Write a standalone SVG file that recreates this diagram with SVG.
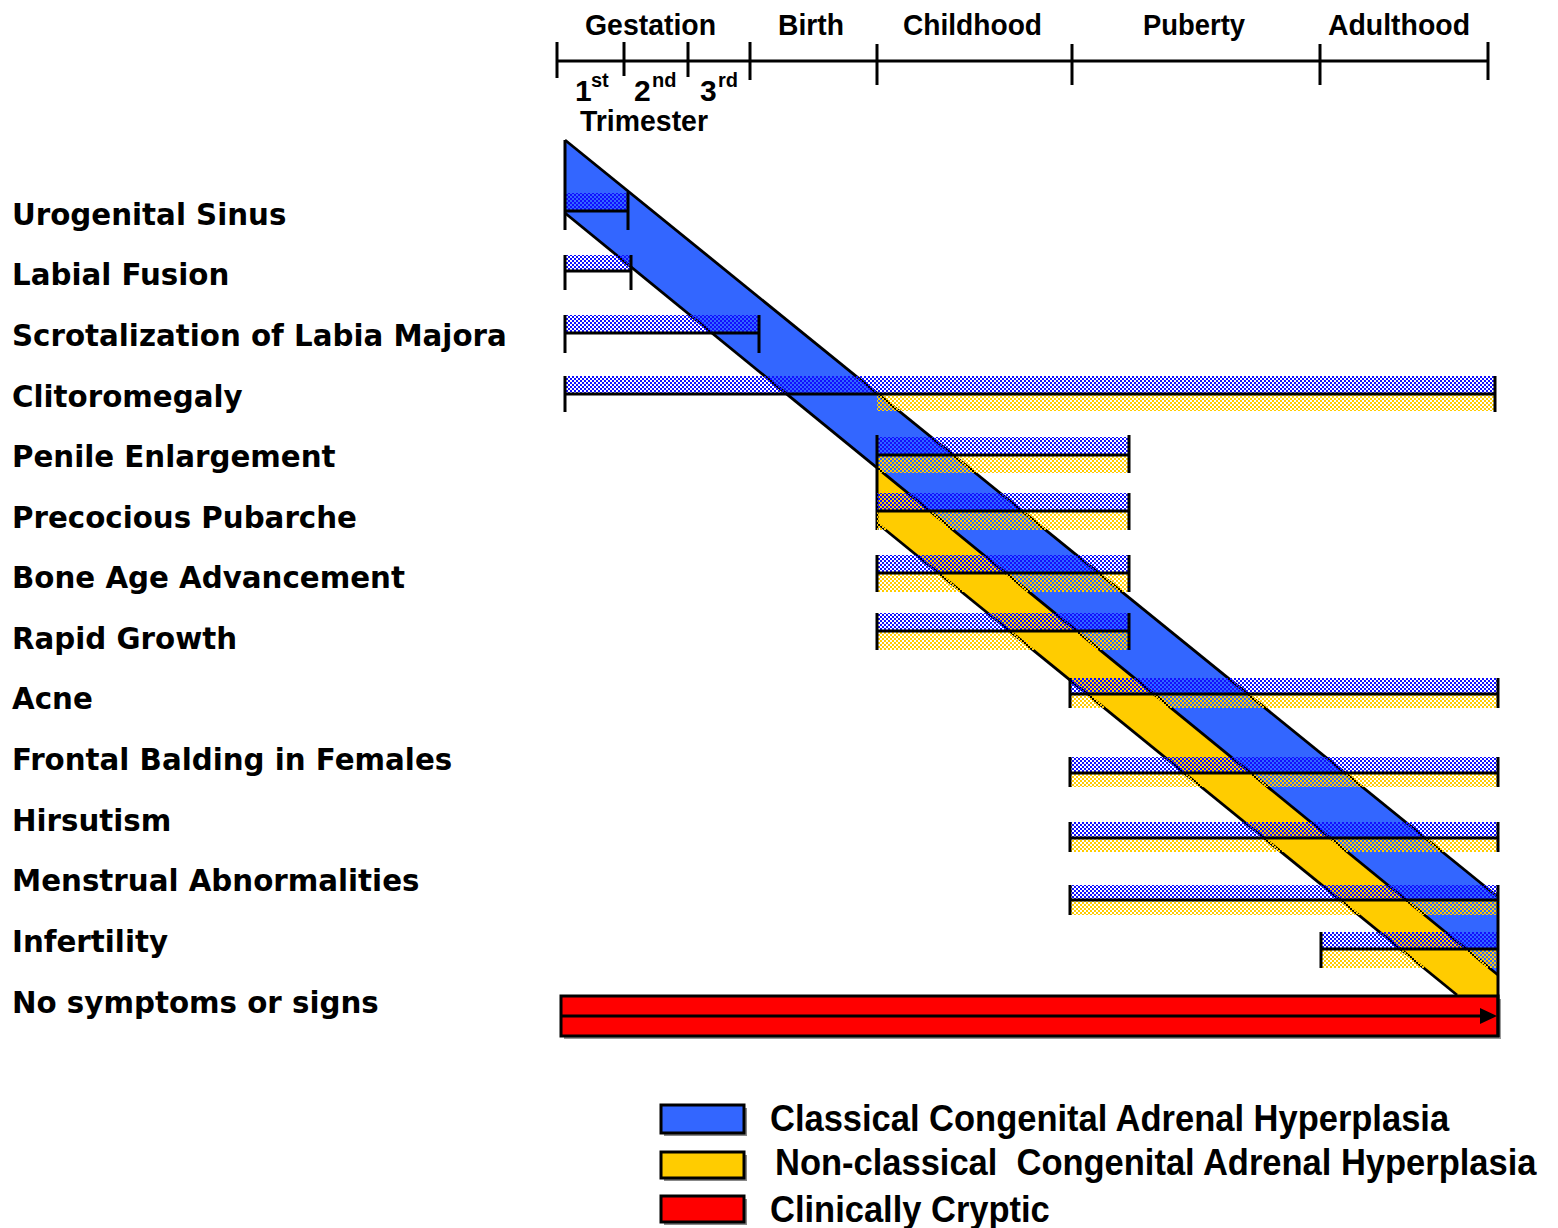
<svg xmlns="http://www.w3.org/2000/svg" width="1558" height="1228" viewBox="0 0 1558 1228">
<style>
.hd{font-family:"Liberation Sans",Arial,sans-serif;font-weight:bold;font-size:30px;fill:#000}
.sup{font-family:"Liberation Sans",Arial,sans-serif;font-weight:bold;font-size:20px;fill:#000}
.lbl{font-family:"DejaVu Sans",Verdana,sans-serif;font-weight:bold;font-size:29.3px;fill:#000}
.lg{font-family:"Liberation Sans",Arial,sans-serif;font-weight:bold;font-size:34.5px;fill:#000}
.ln{stroke:#000;stroke-width:3;fill:none}
.edge{stroke:#000;stroke-width:2.8;fill:none}
.hb{fill:url(#hb)}
.hy{fill:url(#hy)}
</style>
<defs>
<pattern id="hb" width="4" height="4" patternUnits="userSpaceOnUse"><rect width="2" height="2" fill="#1010ff"/><rect x="2" y="2" width="2" height="2" fill="#1010ff"/></pattern>
<pattern id="hy" width="4" height="4" patternUnits="userSpaceOnUse"><rect width="2" height="2" fill="#ffcc00"/><rect x="2" y="2" width="2" height="2" fill="#ffcc00"/></pattern>
</defs>
<rect width="1558" height="1228" fill="#fff"/>

<g id="timeline">
<line class="ln" x1="557" y1="61" x2="1488" y2="61"/>
<line class="ln" x1="557" y1="42" x2="557" y2="78"/>
<line class="ln" x1="624" y1="42" x2="624" y2="76"/>
<line class="ln" x1="688" y1="42" x2="688" y2="77"/>
<line class="ln" x1="750" y1="42" x2="750" y2="80"/>
<line class="ln" x1="877" y1="44" x2="877" y2="85"/>
<line class="ln" x1="1072" y1="44" x2="1072" y2="85"/>
<line class="ln" x1="1320" y1="44" x2="1320" y2="85"/>
<line class="ln" x1="1488" y1="42" x2="1488" y2="80"/>
<text class="hd" x="585" y="35" textLength="131" lengthAdjust="spacingAndGlyphs">Gestation</text>
<text class="hd" x="778" y="35" textLength="66" lengthAdjust="spacingAndGlyphs">Birth</text>
<text class="hd" x="903" y="35" textLength="139" lengthAdjust="spacingAndGlyphs">Childhood</text>
<text class="hd" x="1143" y="35" textLength="102" lengthAdjust="spacingAndGlyphs">Puberty</text>
<text class="hd" x="1328" y="35" textLength="142" lengthAdjust="spacingAndGlyphs">Adulthood</text>
<text class="hd" x="575" y="101" font-size="32">1</text><text class="sup" x="591" y="87">st</text>
<text class="hd" x="634" y="101" font-size="32">2</text><text class="sup" x="652" y="87">nd</text>
<text class="hd" x="700" y="101" font-size="32">3</text><text class="sup" x="718" y="87">rd</text>
<text class="hd" x="580" y="131" textLength="128" lengthAdjust="spacingAndGlyphs">Trimester</text>
</g>

<g id="labels">
<text class="lbl" x="12" y="225">Urogenital Sinus</text>
<text class="lbl" x="12" y="285">Labial Fusion</text>
<text class="lbl" x="12" y="346">Scrotalization of Labia Majora</text>
<text class="lbl" x="12" y="407">Clitoromegaly</text>
<text class="lbl" x="12" y="467">Penile Enlargement</text>
<text class="lbl" x="12" y="528">Precocious Pubarche</text>
<text class="lbl" x="12" y="588">Bone Age Advancement</text>
<text class="lbl" x="12" y="649">Rapid Growth</text>
<text class="lbl" x="12" y="709">Acne</text>
<text class="lbl" x="12" y="770">Frontal Balding in Females</text>
<text class="lbl" x="12" y="831">Hirsutism</text>
<text class="lbl" x="12" y="891">Menstrual Abnormalities</text>
<text class="lbl" x="12" y="952">Infertility</text>
<text class="lbl" x="12" y="1013">No symptoms or signs</text>
</g>

<g id="bands">
<polygon points="877,467.8 1498,975 1498,995 1457,995 877,523" fill="#ffcc00"/>
<polygon points="565,140 1498,897 1498,975 565,213" fill="#3366ff"/>
<line class="edge" x1="565" y1="140" x2="1498" y2="897"/>
<line class="edge" x1="565" y1="213" x2="1498" y2="975"/>
<line class="edge" x1="877" y1="523" x2="1457" y2="995"/>
</g>

<g id="rows">
<g id="row-urogenital"><rect class="hb" x="565" y="193" width="63" height="18"/>
<path class="ln" d="M565,211H628M565,140V230M628,192V230"/></g>
<g id="row-labial"><rect class="hb" x="565" y="255" width="66" height="15"/>
<path class="ln" d="M565,271H631M565,255V290M631,255V290"/></g>
<g id="row-scrotal"><rect class="hb" x="565" y="315" width="194" height="17"/>
<path class="ln" d="M565,333H759M565,315V353M759,315V353"/></g>
<g id="row-clitoro"><rect class="hb" x="565" y="376" width="930" height="17"/><rect class="hy" x="877" y="395" width="618" height="16"/>
<path class="ln" d="M565,394H1495M565,376V412M1495,376V412"/></g>
<g id="row-penile"><rect class="hb" x="877" y="437" width="252" height="17"/><rect class="hy" x="877" y="456" width="252" height="17"/>
<path class="ln" d="M877,455H1129M877,435V530M1129,435V473"/></g>
<g id="row-pubarche"><rect class="hb" x="877" y="493" width="252" height="17"/><rect class="hy" x="877" y="512" width="252" height="18"/>
<path class="ln" d="M877,511H1129M1129,493V530"/></g>
<g id="row-bone"><rect class="hb" x="877" y="555" width="252" height="17"/><rect class="hy" x="877" y="574" width="252" height="18"/>
<path class="ln" d="M877,573H1129M877,555V592M1129,555V592"/></g>
<g id="row-rapid"><rect class="hb" x="877" y="613" width="252" height="17"/><rect class="hy" x="877" y="632" width="252" height="18"/>
<path class="ln" d="M877,631H1129M877,613V650M1129,613V650"/></g>
<g id="row-acne"><rect class="hb" x="1070" y="678" width="428" height="15"/><rect class="hy" x="1070" y="695" width="428" height="13"/>
<path class="ln" d="M1070,694H1498M1070,678V708M1498,678V708"/></g>
<g id="row-frontal"><rect class="hb" x="1070" y="757" width="428" height="15"/><rect class="hy" x="1070" y="774" width="428" height="13"/>
<path class="ln" d="M1070,773H1498M1070,757V787M1498,757V787"/></g>
<g id="row-hirsutism"><rect class="hb" x="1070" y="822" width="428" height="15"/><rect class="hy" x="1070" y="839" width="428" height="13"/>
<path class="ln" d="M1070,838H1498M1070,822V852M1498,822V852"/></g>
<g id="row-menstrual"><rect class="hb" x="1070" y="885" width="428" height="14"/><rect class="hy" x="1070" y="901" width="428" height="14"/>
<path class="ln" d="M1070,900H1498M1070,885V915"/></g>
<g id="row-infertility"><rect class="hb" x="1321" y="932" width="177" height="16"/><rect class="hy" x="1321" y="950" width="177" height="18"/>
<path class="ln" d="M1321,949H1498M1321,932V968"/></g>
<g id="row-nosymptoms">
<rect x="564" y="999" width="937" height="40" fill="#999"/>
<rect x="561" y="996" width="937" height="40" fill="#ff0000" stroke="#000" stroke-width="3"/>
<line class="ln" x1="561" y1="1016" x2="1484" y2="1016"/>
<polygon points="1480,1008 1497,1016 1480,1024" fill="#000"/>
</g>
<line class="ln" x1="1498" y1="885" x2="1498" y2="1037"/>
</g>

<g id="legend">
<rect x="664" y="1108" width="83" height="28" fill="#888"/>
<rect x="661" y="1105" width="83" height="28" fill="#3366ff" stroke="#000" stroke-width="3"/>
<rect x="664" y="1155" width="83" height="26" fill="#888"/>
<rect x="661" y="1152" width="83" height="26" fill="#ffcc00" stroke="#000" stroke-width="3"/>
<rect x="664" y="1199" width="83" height="26" fill="#888"/>
<rect x="661" y="1196" width="83" height="26" fill="#ff0000" stroke="#000" stroke-width="3"/>
<text class="lg" transform="translate(770,1131) scale(1,1.08)">Classical Congenital Adrenal Hyperplasia</text>
<text class="lg" transform="translate(775,1175) scale(1,1.08)" xml:space="preserve">Non-classical  Congenital Adrenal Hyperplasia</text>
<text class="lg" transform="translate(770,1222) scale(1,1.08)">Clinically Cryptic</text>
</g>
</svg>
